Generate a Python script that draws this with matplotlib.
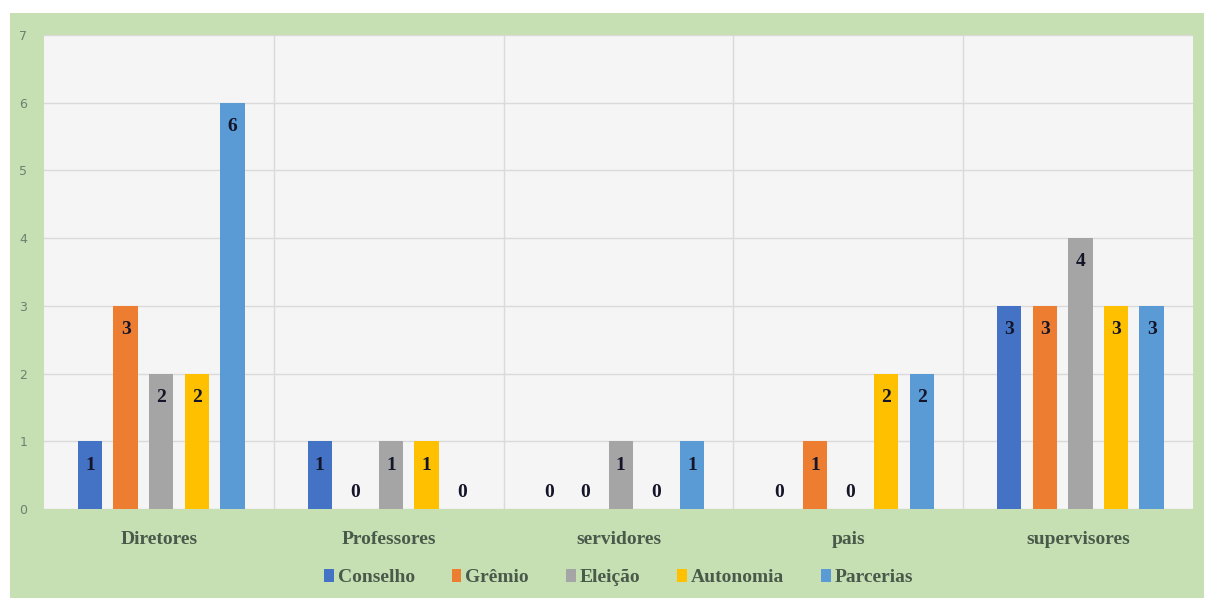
import numpy as np
import matplotlib.pyplot as plt
from matplotlib.patches import Rectangle

categorias = ['Diretores', 'Professores', 'servidores', 'pais', 'supervisores']
series = ['Conselho', 'Grêmio', 'Eleição', 'Autonomia', 'Parcerias']
conselho = [1, 1, 0, 0, 3]
gremio = [3, 0, 0, 1, 3]
eleicao = [2, 1, 1, 0, 4]
autonomia = [2, 1, 0, 2, 3]
parcerias = [6, 0, 1, 2, 3]
cores = ['#4472C4', '#ED7D31', '#A5A5A5', '#FFC000', '#5B9BD5']

valores = [conselho, gremio, eleicao, autonomia, parcerias]

fig = plt.figure(figsize=(12.06, 5.98), dpi=100, facecolor='white')
# fundo verde da moldura
fig.patches.append(Rectangle((10 / 1206, 0), 1194 / 1206, 585 / 598,
                             transform=fig.transFigure, facecolor='#c6e0b4',
                             edgecolor='none', zorder=-10))

ax = fig.add_axes([44 / 1206, 1 - 509 / 598, 1149 / 1206, 474 / 598])
ax.set_facecolor('#f5f5f5')

x = np.arange(len(categorias))
passo = 0.155
largura = 0.106
for i, (nome, v, cor) in enumerate(zip(series, valores, cores)):
    pos = x + (i - 2) * passo + 0.01
    barras = ax.bar(pos, v, largura, color=cor, label=nome, zorder=3)
    for b, val in zip(barras, v):
        cx = b.get_x() + b.get_width() / 2
        if val > 0:
            ax.annotate(str(val), (cx, val), xytext=(0, -11), textcoords='offset points',
                        ha='center', va='top', fontsize=14, fontweight='bold',
                        family='Liberation Serif', color='#15152a', zorder=4)
        else:
            ax.annotate(str(val), (cx, 0), xytext=(0, 12), textcoords='offset points',
                        ha='center', va='center', fontsize=14, fontweight='bold',
                        family='Liberation Serif', color='#15152a', zorder=4)

ax.set_xlim(-0.5, len(categorias) - 0.5)
ax.set_ylim(0, 7)
ax.set_yticks(range(8))
ax.set_xticks(x)
ax.set_xticklabels(categorias, fontsize=14, fontweight='bold', family='Liberation Serif',
                   color='#4a5a4a')
ax.set_xticks(np.arange(0.5, len(categorias) - 1, 1), minor=True)
ax.tick_params(axis='x', which='both', length=0, pad=16)
ax.tick_params(axis='y', length=0, labelsize=9, labelcolor='#6f7f6f', pad=12)
ax.grid(axis='y', color='#dadada', linewidth=1, zorder=0)
ax.grid(axis='x', which='minor', color='#dadada', linewidth=1, zorder=0)
for s in ax.spines.values():
    s.set_visible(False)

leg = ax.legend(loc='center', bbox_to_anchor=(0.5, -0.145), ncol=5, frameon=False,
                handlelength=0.5, handleheight=0.6, handletextpad=0.2, columnspacing=1.9,
                prop={'family': 'Liberation Serif', 'weight': 'bold', 'size': 14})
for t in leg.get_texts():
    t.set_color('#4a5a4a')

fig.savefig('out.png', dpi=100, facecolor=fig.get_facecolor())
